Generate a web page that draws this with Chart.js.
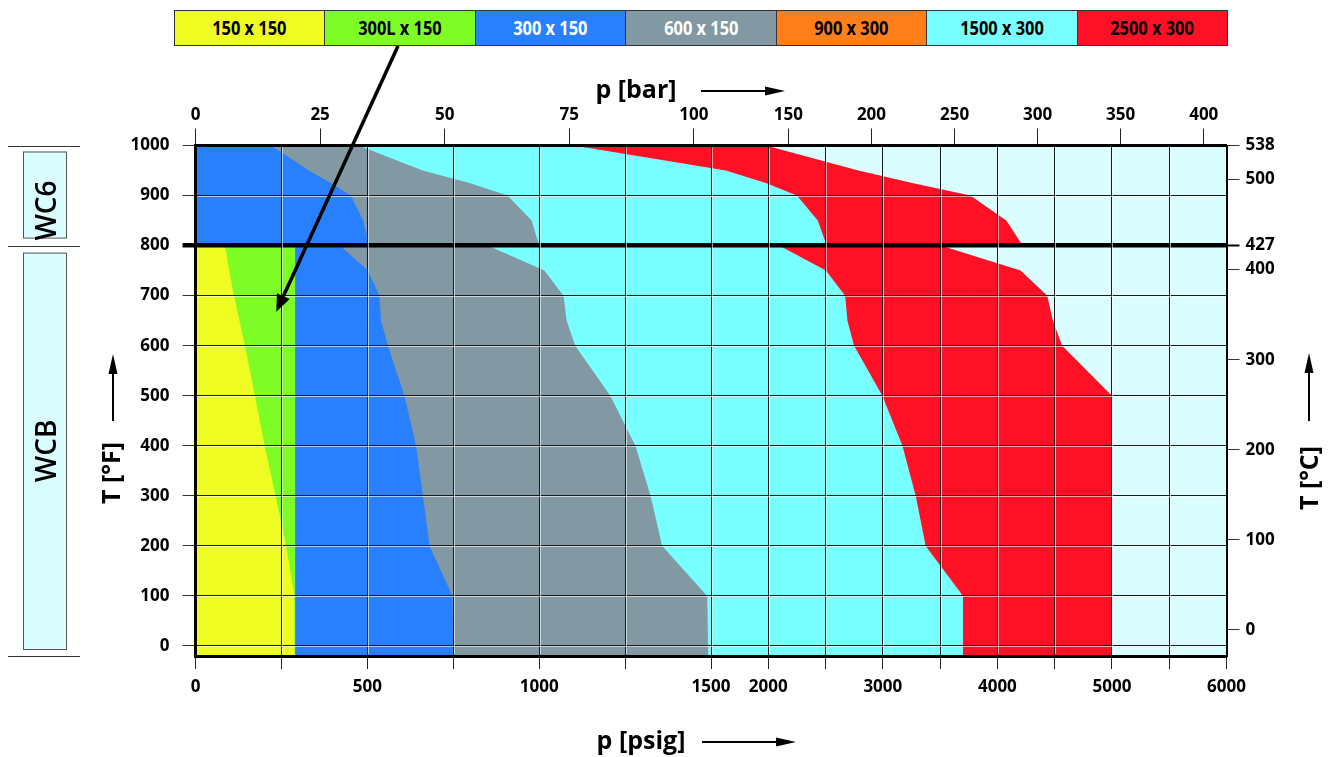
<!DOCTYPE html>
<html>
<head>
<meta charset="utf-8">
<title>WCB / WC6 pressure-temperature ratings</title>
<script src="https://cdn.jsdelivr.net/npm/chart.js@4.4.1/dist/chart.umd.min.js"></script>
<style>
    body { margin: 0; background: #fff; }
    #wrap { position: relative; width: 1332px; height: 757px; }
    #chart { position: absolute; left: 0; top: 0; }
    #classes {
        position: absolute; left: 174px; top: 10px; width: 1054px; height: 36px;
        display: flex; box-sizing: border-box; border: 1px solid #333;
        font-family: 'Open Sans', 'Noto Sans', sans-serif;
    }
    #classes div {
        flex: 1; text-align: center; line-height: 34px; font-size: 20px; font-weight: 700;
        border-right: 1px solid #333;
    }
    #classes div:last-child { border-right: none; }
    #classes span { display: inline-block; transform: scaleX(0.82); }
</style>
</head>
<body>
<div id="wrap">
    <canvas id="chart" width="1332" height="757"></canvas>
    <div id="classes"></div>
</div>
<script>
// pressure classes (legend order)
const classLabels = ['150 x 150', '300L x 150', '300 x 150', '600 x 150', '900 x 300', '1500 x 300', '2500 x 300'];
const classColors = ['#eefc22', '#7efc26', '#2980ff', '#8299a3', '#ff7f1b', '#78ffff', '#ff1024'];
const classTextColors = ['#000', '#000', '#fff', '#fff', '#000', '#000', '#000'];
const outsideColor = '#dafeff';

// WCB range, max pressure in psig per temperature (°F)
const tempsWCB = [-20, 100, 200, 300, 400, 500, 600, 650, 700, 750, 800];
const p150WCB = [288, 288, 264, 233, 201, 173, 144, 128, 112, 98, 86];
const p300LWCB = [290, 290, 290, 290, 290, 290, 290, 290, 290, 290, 290];
const p300WCB = [750, 748, 681, 662, 642, 608, 560, 540, 535, 502, 420];
const p600WCB = [1492, 1489, 1358, 1324, 1280, 1207, 1105, 1080, 1071, 1015, 850];
const p1500WCB = [3708, 3700, 3374, 3287, 3171, 2996, 2749, 2691, 2671, 2503, 2095];
const p2500WCB = [5000, 5000, 5000, 5000, 5000, 5000, 4565, 4485, 4435, 4203, 3505];

// WC6 range
const tempsWC6 = [800, 850, 900, 925, 950, 1000];
const p300WC6 = [505, 488, 452, 394, 330, 220];
const p600WC6 = [1000, 978, 908, 797, 661, 475];
const p1500WC6 = [2510, 2432, 2250, 1979, 1630, 1100];
const p2500WC6 = [4220, 4078, 3764, 3257, 2787, 1979];

// axes
const tempMin = -20;
const tempMax = 1000;
const fTicks = [0, 100, 200, 300, 400, 500, 600, 700, 800, 900, 1000];
const cTicks = [0, 100, 200, 300, 400, 427, 500, 538];
const psigTicks = [0, 250, 500, 750, 1000, 1250, 1500, 2000, 2500, 3000, 3500, 4000, 4500, 5000, 5500, 6000];
const psigLabels = [0, 500, 1000, 1500, 2000, 3000, 4000, 5000, 6000];
const barTicks = [0, 25, 50, 75, 100, 150, 200, 250, 300, 350, 400];
const psigMax = 6000;
const PSI_PER_BAR = 14.5038;

// pressure axis is compressed 3:1 above 1500 psig
const BREAK = 1500;
const SQUEEZE = 3;
const toU = p => p <= BREAK ? p : BREAK + (p - BREAK) / SQUEEZE;
const fromU = u => u <= BREAK ? u : BREAK + (u - BREAK) * SQUEEZE;
const fToC = f => (f - 32) / 1.8;

const FONT = "'Open Sans', 'Noto Sans', sans-serif";

// legend boxes
const legendBox = document.getElementById('classes');
classLabels.forEach((label, i) => {
    const d = document.createElement('div');
    d.style.background = classColors[i];
    d.style.color = classTextColors[i];
    d.innerHTML = '<span>' + label + '</span>';
    legendBox.appendChild(d);
});

function region(temps, psig, color) {
    const pts = [{x: 0, y: temps[0]}];
    temps.forEach((t, i) => pts.push({x: toU(psig[i]), y: t}));
    pts.push({x: 0, y: temps[temps.length - 1]});
    return {
        data: pts,
        showLine: true,
        fill: 'shape',
        backgroundColor: color,
        borderColor: 'rgba(0,0,0,0)',
        borderWidth: 0,
        pointRadius: 0,
        pointHoverRadius: 0
    };
}

function arrow(ctx, x1, y1, x2, y2, lw, headLen, headHalf) {
    const a = Math.atan2(y2 - y1, x2 - x1);
    const bx = x2 - Math.cos(a) * headLen;
    const by = y2 - Math.sin(a) * headLen;
    ctx.lineWidth = lw;
    ctx.beginPath();
    ctx.moveTo(x1, y1);
    ctx.lineTo(bx, by);
    ctx.stroke();
    ctx.beginPath();
    ctx.moveTo(x2, y2);
    ctx.lineTo(bx + Math.sin(a) * headHalf, by - Math.cos(a) * headHalf);
    ctx.lineTo(bx - Math.sin(a) * headHalf, by + Math.cos(a) * headHalf);
    ctx.closePath();
    ctx.fill();
}

function text(ctx, str, x, y, size, weight, rot, align) {
    ctx.save();
    ctx.translate(x, y);
    ctx.rotate(rot || 0);
    ctx.font = weight + ' ' + size + 'px ' + FONT;
    ctx.textAlign = align || 'center';
    ctx.textBaseline = 'middle';
    ctx.fillText(str, 0, 0);
    ctx.restore();
}

const decor = {
    id: 'decor',
    beforeDraw(chart) {
        const {ctx, chartArea: a} = chart;
        ctx.save();
        ctx.fillStyle = outsideColor;
        ctx.fillRect(a.left, a.top, a.right - a.left, a.bottom - a.top);
        ctx.restore();
    },
    afterDraw(chart) {
        const {ctx, chartArea: a} = chart;
        const x = chart.scales.x, y = chart.scales.y;
        ctx.save();

        // light edge next to every grid line
        ctx.strokeStyle = 'rgba(255,255,255,0.6)';
        ctx.lineWidth = 1;
        ctx.beginPath();
        x.ticks.forEach(t => {
            const px = Math.round(x.getPixelForValue(t.value) - 0.5) + 1.5;
            if (px > a.left + 3 && px < a.right - 3) {
                ctx.moveTo(px, a.top + 2);
                ctx.lineTo(px, a.bottom - 2);
            }
        });
        y.ticks.forEach(t => {
            if (t.value === 800) return;
            const py = Math.round(y.getPixelForValue(t.value) - 0.5) + 1.5;
            if (py > a.top + 3 && py < a.bottom - 3) {
                ctx.moveTo(a.left + 2, py);
                ctx.lineTo(a.right - 2, py);
            }
        });
        ctx.stroke();

        // material ranges on the left
        const yTop = y.getPixelForValue(tempMax);
        const yMid = y.getPixelForValue(800);
        const yBot = y.getPixelForValue(tempMin);
        ctx.strokeStyle = '#333';
        ctx.lineWidth = 1;
        ctx.beginPath();
        [yTop, yMid, yBot].forEach(py => {
            ctx.moveTo(8, Math.round(py) + 0.5);
            ctx.lineTo(80, Math.round(py) + 0.5);
        });
        ctx.stroke();
        ctx.fillStyle = outsideColor;
        ctx.strokeStyle = '#555';
        [[yTop + 6, yMid - 8], [yMid + 7, yBot - 7]].forEach(([t, b]) => {
            ctx.fillRect(23, t, 43, b - t);
            ctx.strokeRect(23.5, t + 0.5, 43, b - t);
        });
        ctx.fillStyle = '#000';
        text(ctx, 'WC6', 48, yMid - 5, 28, 600, -Math.PI / 2, 'left');
        text(ctx, 'WCB', 48, (yMid + yBot) / 2, 28, 600, -Math.PI / 2, 'center');

        // axis titles with arrows
        ctx.fillStyle = '#000';
        ctx.strokeStyle = '#000';
        text(ctx, 'p [psig]', 641, 742, 25, 700, 0);
        arrow(ctx, 702, 742, 796, 742, 2, 20, 4.5);
        text(ctx, 'p [bar]', 636, 91, 25, 700, 0);
        arrow(ctx, 701, 91, 785, 91, 2, 20, 4.5);
        text(ctx, 'T [°F]', 113, 473, 25, 700, -Math.PI / 2);
        arrow(ctx, 113, 421, 113, 354, 2, 20, 4.5);
        text(ctx, 'T [°C]', 1311, 478, 25, 700, -Math.PI / 2);
        arrow(ctx, 1309, 421, 1309, 353, 2, 20, 4.5);

        // pointer from "300L x 150" to its area
        const tipX = x.getPixelForValue(toU(235));
        const tipY = y.getPixelForValue(668);
        arrow(ctx, 398, 46, tipX, tipY, 3.5, 17, 7);

        ctx.restore();
    }
};

Chart.defaults.font.family = FONT;
Chart.defaults.color = '#000';

const tickFont = {size: 17, weight: 'bold'};

new Chart(document.getElementById('chart'), {
    type: 'scatter',
    data: {
        datasets: [
            region(tempsWCB, p150WCB, classColors[0]),
            region(tempsWCB, p300LWCB, classColors[1]),
            region(tempsWCB, p300WCB, classColors[2]),
            region(tempsWCB, p600WCB, classColors[3]),
            region(tempsWCB, p1500WCB, classColors[5]),
            region(tempsWCB, p2500WCB, classColors[6]),
            region(tempsWC6, p300WC6, classColors[2]),
            region(tempsWC6, p600WC6, classColors[3]),
            region(tempsWC6, p1500WC6, classColors[5]),
            region(tempsWC6, p2500WC6, classColors[6])
        ]
    },
    options: {
        responsive: false,
        animation: false,
        events: [],
        layout: {padding: {left: 105.5, right: 35.5, top: 95.5, bottom: 51}},
        plugins: {legend: {display: false}, tooltip: {enabled: false}},
        scales: {
            x: {
                type: 'linear', position: 'bottom', min: 0, max: toU(psigMax),
                afterFit: s => { s.height = 50; },
                afterBuildTicks: s => { s.ticks = psigTicks.map(p => ({value: toU(p)})); },
                ticks: {
                    z: 2, autoSkip: false, maxRotation: 0, padding: 8, font: tickFont,
                    callback: v => {
                        const p = Math.round(fromU(v));
                        return psigLabels.includes(p) ? String(p) : '';
                    }
                },
                grid: {z: 1, color: '#1a1a1a', lineWidth: 1, tickLength: 13, tickColor: '#222'},
                border: {z: 2, color: '#000', width: 3}
            },
            xb: {
                type: 'linear', position: 'top', min: 0, max: toU(psigMax),
                afterFit: s => { s.height = 50; },
                afterBuildTicks: s => { s.ticks = barTicks.map(b => ({value: toU(b * PSI_PER_BAR)})); },
                ticks: {
                    z: 2, autoSkip: false, maxRotation: 0, padding: 3, font: tickFont,
                    callback: v => String(Math.round(fromU(v) / PSI_PER_BAR))
                },
                grid: {z: 1, drawOnChartArea: false, tickLength: 17, tickColor: '#222'},
                border: {z: 2, color: '#000', width: 3}
            },
            y: {
                type: 'linear', position: 'left', min: tempMin, max: tempMax,
                afterFit: s => { s.width = 90; },
                afterBuildTicks: s => { s.ticks = fTicks.map(v => ({value: v})); },
                ticks: {z: 2, padding: 13, font: tickFont, callback: v => String(v)},
                grid: {
                    z: 1,
                    tickLength: 13,
                    color: c => c.tick && c.tick.value === 800 ? '#000' : '#1a1a1a',
                    lineWidth: c => c.tick && c.tick.value === 800 ? 4.5 : 1,
                    tickColor: c => c.tick && c.tick.value === 800 ? '#000' : '#333',
                    tickWidth: c => c.tick && c.tick.value === 800 ? 4.5 : 1
                },
                border: {z: 2, color: '#000', width: 3}
            },
            yc: {
                type: 'linear', position: 'right', min: fToC(tempMin), max: fToC(tempMax),
                afterFit: s => { s.width = 70; },
                afterBuildTicks: s => { s.ticks = cTicks.map(v => ({value: v})); },
                ticks: {z: 2, padding: 6, font: tickFont, callback: v => String(v)},
                grid: {
                    z: 1, drawOnChartArea: false, tickLength: 13,
                    tickColor: c => c.tick && c.tick.value === 427 ? '#000' : '#333',
                    tickWidth: c => c.tick && c.tick.value === 427 ? 2 : 1
                },
                border: {z: 2, color: '#000', width: 2}
            }
        }
    },
    plugins: [decor]
});
</script>
</body>
</html>
